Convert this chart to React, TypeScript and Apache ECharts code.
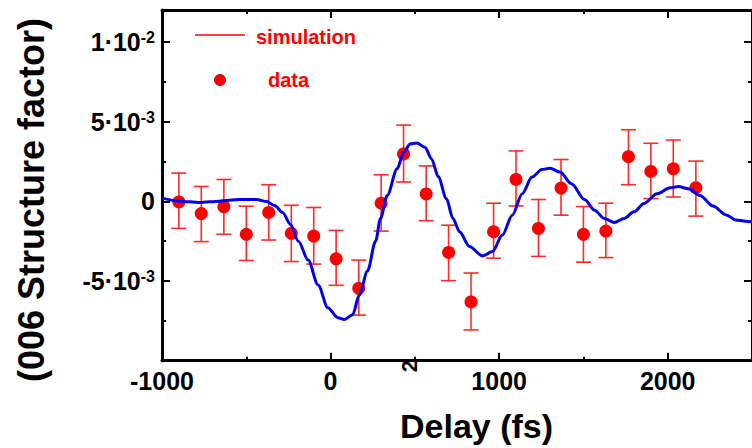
import React, { useEffect, useRef } from 'react';
import * as echarts from 'echarts';

// Measured data (delay in fs, structure factor change)
const delays = [-900, -767, -633, -500, -367, -233, -100, 33, 167, 300, 433, 567, 700, 833, 967, 1100, 1233, 1367, 1500, 1633, 1767, 1900, 2033, 2167];
const dataValues = [-0.04e-3, -0.77e-3, -0.35e-3, -2.07e-3, -0.70e-3, -2.01e-3, -2.18e-3, -3.61e-3, -5.46e-3, -0.12e-3, 2.97e-3, 0.46e-3, -3.21e-3, -6.31e-3, -1.91e-3, 1.37e-3, -1.70e-3, 0.83e-3, -2.07e-3, -1.87e-3, 2.80e-3, 1.87e-3, 2.04e-3, 0.85e-3];
const errHigh = [1.77e-3, 0.93e-3, 1.37e-3, -0.31e-3, 1.04e-3, -0.25e-3, -0.39e-3, -1.83e-3, -3.69e-3, 1.66e-3, 4.78e-3, 2.22e-3, -1.50e-3, -4.50e-3, -0.12e-3, 3.16e-3, 0.11e-3, 2.62e-3, -0.33e-3, -0.12e-3, 4.49e-3, 3.64e-3, 3.84e-3, 2.52e-3];
const errLow = [-1.70e-3, -2.53e-3, -2.07e-3, -3.71e-3, -2.43e-3, -3.78e-3, -3.94e-3, -5.27e-3, -7.14e-3, -1.87e-3, 1.21e-3, -1.22e-3, -4.98e-3, -8.07e-3, -3.57e-3, -0.29e-3, -3.46e-3, -0.87e-3, -3.82e-3, -3.53e-3, 1.04e-3, 0.17e-3, 0.27e-3, -0.93e-3];

// Simulation curve
const simDelay = [-1000, -895, -777, -660, -543, -438, -378, -332, -285, -238, -191, -133, -74, -16, 43, 82, 131, 170, 219, 267, 296, 336, 395, 434, 472, 511, 560, 599, 639, 687, 726, 765, 824, 902, 961, 1019, 1078, 1137, 1195, 1254, 1302, 1361, 1429, 1507, 1566, 1624, 1683, 1741, 1800, 1859, 1937, 2015, 2064, 2122, 2191, 2269, 2347, 2405, 2460, 2500];
const simValue = [0.20e-3, 0.01e-3, -0.08e-3, 0.01e-3, 0.11e-3, 0.11e-3, -0.02e-3, -0.27e-3, -0.70e-3, -1.45e-3, -2.51e-3, -3.69e-3, -5.25e-3, -6.68e-3, -7.30e-3, -7.41e-3, -7.12e-3, -5.88e-3, -4.38e-3, -2.51e-3, -1.08e-3, 0.36e-3, 2.04e-3, 3.08e-3, 3.60e-3, 3.66e-3, 3.39e-3, 2.66e-3, 1.54e-3, 0.17e-3, -1.08e-3, -1.91e-3, -2.84e-3, -3.43e-3, -3.15e-3, -2.12e-3, -0.87e-3, 0.48e-3, 1.52e-3, 1.99e-3, 2.08e-3, 1.83e-3, 1.10e-3, 0.11e-3, -0.56e-3, -1.08e-3, -1.33e-3, -1.08e-3, -0.66e-3, -0.14e-3, 0.48e-3, 0.85e-3, 0.93e-3, 0.79e-3, 0.37e-3, -0.30e-3, -0.86e-3, -1.17e-3, -1.25e-3, -1.28e-3];

const xMin = -1000;
const xMax = 2500;
const xInterval = 1000;
const yMin = -0.01;
const yMax = 0.012;
const yInterval = 0.005;

const xTitle = 'Delay (fs)';
const yTitle = '(006 Structure factor)';
const legendSim = 'simulation';
const legendData = 'data';

const FONT = '"Liberation Sans", Arial, Helvetica, sans-serif';

function yFormatter(v: number): string {
  if (Math.abs(v) < 1e-12) return '0';
  const exp = Math.floor(Math.log10(Math.abs(v)) + 1e-9);
  const mant = Math.round(v / Math.pow(10, exp));
  return `${mant}·10{s|${exp}}`;
}

export default function App() {
  const ref = useRef<HTMLDivElement>(null);
  useEffect(() => {
    document.body.style.margin = '0';
    if (!ref.current) return;
    const chart = echarts.init(ref.current, undefined, { renderer: 'svg' });

    const axisLine = { show: true, onZero: false, lineStyle: { color: '#000', width: 3 } };
    const axisTick = { show: true, inside: true, length: 8, lineStyle: { color: '#000', width: 2 } };
    const minorTick = { show: true, splitNumber: 2, length: 4, lineStyle: { color: '#000', width: 2 } };
    const labelBase = { color: '#000', fontSize: 25, fontWeight: 'bold' as const, fontFamily: FONT };

    const option: any = {
      animation: false,
      backgroundColor: '#fff',
      grid: { left: 162, top: 10, width: 597.7, height: 350.7, containLabel: false },
      xAxis: [
        {
          type: 'value', position: 'bottom', min: xMin, max: xMax, interval: xInterval,
          axisLine, axisTick, minorTick, splitLine: { show: false },
          axisLabel: { ...labelBase, margin: 8, showMaxLabel: false, showMinLabel: true, formatter: (v: number) => String(v) },
        },
        {
          type: 'value', position: 'top', min: xMin, max: xMax, interval: xInterval,
          axisLine, axisTick, minorTick, splitLine: { show: false },
          axisLabel: { show: false },
        },
      ],
      yAxis: [
        {
          type: 'value', position: 'left', min: yMin, max: yMax, interval: yInterval,
          axisLine, axisTick, minorTick, splitLine: { show: false },
          axisLabel: {
            ...labelBase, margin: 7, showMinLabel: false, showMaxLabel: false,
            formatter: yFormatter,
            rich: {
              s: { fontSize: 16, fontWeight: 'bold', fontFamily: FONT, color: '#000', verticalAlign: 'top' },
            },
          },
        },
        {
          type: 'value', position: 'right', min: yMin, max: yMax, interval: yInterval,
          axisLine, axisTick, minorTick, splitLine: { show: false },
          axisLabel: { show: false },
        },
      ],
      series: [
        {
          name: 'errorbars',
          type: 'custom',
          xAxisIndex: 0, yAxisIndex: 0,
          z: 2,
          encode: { x: 0, y: [1, 2] },
          data: delays.map((d, i) => [d, errLow[i], errHigh[i]]),
          renderItem: (params: any, api: any) => {
            const x = api.value(0);
            const pLo = api.coord([x, api.value(1)]);
            const pHi = api.coord([x, api.value(2)]);
            const hw = 7.5;
            const style = { stroke: '#ff2a2a', lineWidth: 1.6 };
            return {
              type: 'group',
              children: [
                { type: 'line', shape: { x1: pLo[0], y1: pLo[1], x2: pHi[0], y2: pHi[1] }, style },
                { type: 'line', shape: { x1: pHi[0] - hw, y1: pHi[1], x2: pHi[0] + hw, y2: pHi[1] }, style },
                { type: 'line', shape: { x1: pLo[0] - hw, y1: pLo[1], x2: pLo[0] + hw, y2: pLo[1] }, style },
              ],
            };
          },
        },
        {
          name: legendData,
          type: 'scatter',
          z: 3,
          symbol: 'circle',
          symbolSize: 13,
          itemStyle: { color: '#ff0000', opacity: 1 },
          data: delays.map((d, i) => [d, dataValues[i]]),
        },
        {
          name: legendSim,
          type: 'line',
          z: 4,
          smooth: 0.3,
          smoothMonotone: 'x',
          symbol: 'none',
          lineStyle: { color: '#0000ee', width: 3 },
          data: simDelay.map((d, i) => [d, simValue[i]]),
        },
      ],
      graphic: [
        { type: 'line', shape: { x1: 195, y1: 35, x2: 245, y2: 35 }, style: { stroke: '#ff0000', lineWidth: 1.5 } },
        { type: 'text', x: 256, y: 37, style: { text: legendSim, fill: '#ff0000', font: `bold 20px ${FONT}`, textAlign: 'left', textVerticalAlign: 'middle' } },
        { type: 'circle', shape: { cx: 220, cy: 80, r: 5.5 }, style: { fill: '#ff0000', stroke: '#c00000', lineWidth: 1 } },
        { type: 'text', x: 268, y: 80, style: { text: legendData, fill: '#ff0000', font: `bold 20px ${FONT}`, textAlign: 'left', textVerticalAlign: 'middle' } },
        { type: 'text', x: 476.5, y: 426, style: { text: xTitle, fill: '#000', font: `bold 34px ${FONT}`, textAlign: 'center', textVerticalAlign: 'middle' } },
        { type: 'text', x: 31, y: 200, rotation: Math.PI / 2, style: { text: yTitle, fill: '#000', font: `bold 36px ${FONT}`, textAlign: 'center', textVerticalAlign: 'middle' } },
        { type: 'text', x: 409, y: 366, rotation: Math.PI / 2, style: { text: '2', fill: '#000', font: `bold 22px ${FONT}`, textAlign: 'center', textVerticalAlign: 'middle' } },
      ],
    };
    chart.setOption(option);
    return () => chart.dispose();
  }, []);
  return <div ref={ref} style={{ width: 752, height: 448 }} />;
}
